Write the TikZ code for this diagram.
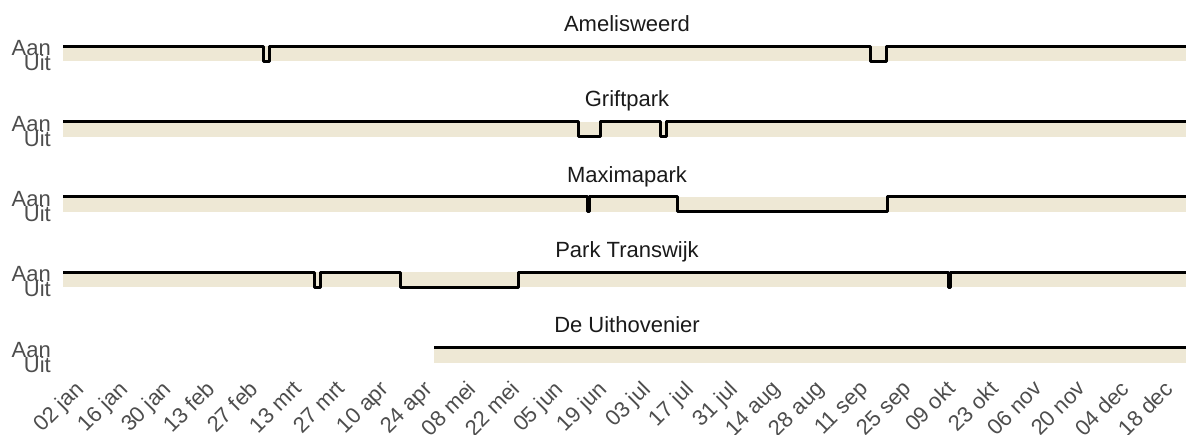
\documentclass[tikz,border=0pt]{standalone}
\usepackage{fontspec}
\setmainfont{Liberation Sans}
\definecolor{bandcol}{RGB}{238,232,213}
\definecolor{axgray}{RGB}{77,77,77}
\definecolor{ttlcol}{RGB}{26,26,26}
\begin{document}
\begin{tikzpicture}[x=1pt,y=-1pt,
  sigline/.style={line width=3pt,line join=round,black},
  band/.style={fill=bandcol,draw=none},
  ttl/.style={anchor=base,text=ttlcol,inner sep=0pt,font=\fontsize{22}{24}\selectfont},
  ylab/.style={anchor=base east,text=axgray,inner sep=0pt,font=\fontsize{22}{24}\selectfont},
  xlab/.style={anchor=north east,rotate=45,text=axgray,inner sep=0pt,font=\fontsize{22}{24}\selectfont}]
\useasboundingbox (0,0) rectangle (1186,434);
% panel 1: Amelisweerd
\begin{scope}[yshift=-46.3pt]
  \fill[band] (63,0) rectangle (1186,15);
  \draw[sigline] (63,0) -- (263.8,0) -- (263.8,15) -- (269.2,15) -- (269.2,0)
     -- (870.5,0) -- (870.5,15) -- (886.5,15) -- (886.5,0) -- (1186,0);
  \node[ttl] (t1) at (627,-14.8) {Amelisweerd};
  \node[ylab] (a1) at (51,9.5) {Aan};
  \node[ylab] (u1) at (51,24.5) {Uit};
\end{scope}
% panel 2: Griftpark
\begin{scope}[yshift=-121.6pt]
  \fill[band] (63,0) rectangle (1186,15);
  \draw[sigline] (63,0) -- (578.5,0) -- (578.5,15) -- (600.5,15) -- (600.5,0)
     -- (660.5,0) -- (660.5,15) -- (666.5,15) -- (666.5,0) -- (1186,0);
  \node[ttl] (t2) at (627,-14.8) {Griftpark};
  \node[ylab] (a2) at (51,9.5) {Aan};
  \node[ylab] (u2) at (51,24.5) {Uit};
\end{scope}
% panel 3: Maximapark
\begin{scope}[yshift=-196.9pt]
  \fill[band] (63,0) rectangle (1186,15);
  \draw[sigline] (63,0) -- (587,0) -- (587,15) -- (589.5,15) -- (589.5,0)
     -- (677,0) -- (677,15) -- (887,15) -- (887,0) -- (1186,0);
  \node[ttl] (t3) at (627,-14.8) {Maximapark};
  \node[ylab] (a3) at (51,9.5) {Aan};
  \node[ylab] (u3) at (51,24.5) {Uit};
\end{scope}
% panel 4: Park Transwijk
\begin{scope}[yshift=-272.2pt]
  \fill[band] (63,0) rectangle (1186,15);
  \draw[sigline] (63,0) -- (314.5,0) -- (314.5,15) -- (320.5,15) -- (320.5,0)
     -- (400,0) -- (400,15) -- (518.5,15) -- (518.5,0)
     -- (948,0) -- (948,15) -- (950.8,15) -- (950.8,0) -- (1186,0);
  \node[ttl] (t4) at (627,-14.8) {Park Transwijk};
  \node[ylab] (a4) at (51,9.5) {Aan};
  \node[ylab] (u4) at (51,24.5) {Uit};
\end{scope}
% panel 5: De Uithovenier
\begin{scope}[yshift=-347.5pt]
  \fill[band] (434,0) rectangle (1186,15);
  \draw[sigline] (434,0) -- (1186,0);
  \node[ttl] (t5) at (627,-14.8) {De Uithovenier};
  \node[ylab] (a5) at (51,9.5) {Aan};
  \node[ylab] (u5) at (51,24.5) {Uit};
\end{scope}
% x axis labels
\foreach \lab [count=\i from 0] in {02 jan,16 jan,30 jan,13 feb,27 feb,13 mrt,27 mrt,10 apr,24 apr,08 mei,22 mei,05 jun,19 jun,03 jul,17 jul,31 jul,14 aug,28 aug,11 sep,25 sep,09 okt,23 okt,06 nov,20 nov,04 dec,18 dec}{
  \node[xlab] (x\i) at ({74+43.56*\i},379) {\lab};
}
\end{tikzpicture}
\end{document}
